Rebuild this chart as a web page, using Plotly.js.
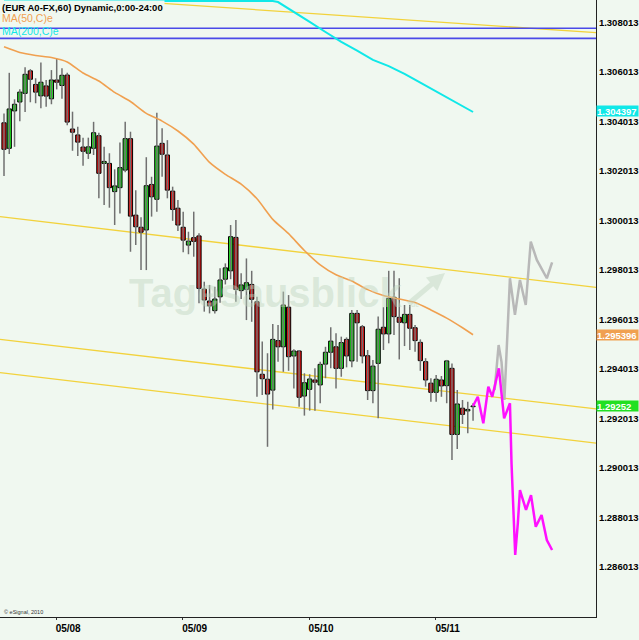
<!DOCTYPE html>
<html>
<head>
<meta charset="utf-8">
<script src="https://cdn.plot.ly/plotly-3.0.1.min.js"></script>
<style>
html,body{margin:0;padding:0;background:#f0f8f0;}
#chart{width:639px;height:640px;}
</style>
</head>
<body>
<div id="chart"></div>
<script>
// ---- hourly candles (EUR A0-FX, 60) ----
const opens = [1.30396,1.30293,1.30444,1.30480,1.30515,1.30606,1.30551,1.30505,1.30545,1.30493,
1.30569,1.30547,1.30589,1.30371,1.30347,1.30298,1.30273,1.30293,1.30344,1.30232,
1.30232,1.30118,1.30134,1.30205,1.30332,1.30023,1.29974,1.29963,1.30147,1.30087,
1.30313,1.30266,1.30120,1.30051,1.29974,1.29902,1.29932,1.29939,1.29724,1.29676,
1.29637,1.29693,1.29764,1.29798,1.29933,1.29718,1.29723,1.29743,1.29673,1.29380,
1.29360,1.29316,1.29516,1.29491,1.29651,1.29454,1.29474,1.29292,1.29319,1.29357,
1.29337,1.29421,1.29469,1.29491,1.29404,1.29521,1.29434,1.29626,1.29572,1.29455,
1.29314,1.29424,1.29570,1.29543,1.29691,1.29610,1.29588,1.29622,1.29568,1.29509,
1.29431,1.29344,1.29307,1.29357,1.29334,1.29404,1.29137,1.29243,1.29232,1.29249];
const highs = [1.30434,1.30598,1.30491,1.30532,1.30620,1.30613,1.30576,1.30640,1.30569,1.30609,
1.30655,1.30616,1.30598,1.30441,1.30380,1.30336,1.30336,1.30400,1.30356,1.30299,
1.30273,1.30208,1.30316,1.30400,1.30360,1.30124,1.30014,1.30257,1.30178,1.30437,
1.30374,1.30326,1.30138,1.30084,1.30037,1.29956,1.30037,1.29950,1.29754,1.29741,
1.29734,1.29808,1.29828,1.29983,1.30003,1.29788,1.29848,1.29798,1.29693,1.29512,
1.29465,1.29583,1.29579,1.29714,1.29700,1.29481,1.29478,1.29384,1.29380,1.29404,
1.29431,1.29491,1.29570,1.29546,1.29532,1.29529,1.29640,1.29640,1.29579,1.29478,
1.29438,1.29613,1.29651,1.29798,1.29798,1.29768,1.29660,1.29660,1.29579,1.29521,
1.29445,1.29364,1.29377,1.29373,1.29438,1.29424,1.29316,1.29276,1.29269,1.29263];
const lows = [1.30181,1.30270,1.30299,1.30402,1.30440,1.30479,1.30475,1.30455,1.30461,1.30471,
1.30531,1.30493,1.30386,1.30283,1.30262,1.30223,1.30250,1.30266,1.30091,1.30064,
1.30053,1.29983,1.30030,1.30196,1.29875,1.29902,1.29801,1.29801,1.30017,1.30037,
1.30178,1.30091,1.30000,1.29959,1.29873,1.29865,1.29855,1.29667,1.29633,1.29626,
1.29626,1.29669,1.29743,1.29764,1.29673,1.29684,1.29599,1.29592,1.29289,1.29296,
1.29087,1.29238,1.29431,1.29390,1.29394,1.29323,1.29249,1.29213,1.29233,1.29233,
1.29263,1.29364,1.29404,1.29323,1.29370,1.29408,1.29408,1.29431,1.29424,1.29276,
1.29263,1.29202,1.29478,1.29505,1.29539,1.29440,1.29494,1.29478,1.29471,1.29394,
1.29330,1.29269,1.29269,1.29289,1.29263,1.29034,1.29078,1.29179,1.29142,1.29192];
const closes = [1.30289,1.30452,1.30471,1.30520,1.30592,1.30572,1.30520,1.30560,1.30504,1.30569,
1.30560,1.30588,1.30399,1.30358,1.30318,1.30281,1.30299,1.30356,1.30192,1.30240,
1.30134,1.30141,1.30215,1.30332,1.30019,1.29976,1.29954,1.30142,1.30097,1.30302,
1.30269,1.30124,1.30046,1.29983,1.29922,1.29918,1.29917,1.29727,1.29680,1.29656,
1.29684,1.29761,1.29810,1.29936,1.29723,1.29741,1.29750,1.29683,1.29390,1.29362,
1.29300,1.29521,1.29491,1.29660,1.29451,1.29474,1.29287,1.29346,1.29361,1.29348,
1.29420,1.29469,1.29514,1.29404,1.29508,1.29454,1.29626,1.29588,1.29454,1.29314,
1.29413,1.29562,1.29543,1.29687,1.29613,1.29590,1.29622,1.29566,1.29516,1.29435,
1.29357,1.29307,1.29360,1.29333,1.29434,1.29137,1.29260,1.29218,1.29238,1.29252];

// ---- moving averages ----
const ma50X = [0,3,6,9,12,15,18,21,24,27,30,33,36,39,42,45,48,51,54,57,60,63,66,69,72,75,78,81,84,87,89];
const ma50Y = [1.30703,1.30680,1.30668,1.30660,1.30642,1.30597,1.30565,1.30519,1.30482,1.30434,
1.30403,1.30363,1.30310,1.30236,1.30188,1.30148,1.30089,1.30006,1.29948,1.29880,
1.29822,1.29782,1.29757,1.29722,1.29698,1.29684,1.29670,1.29640,1.29607,1.29568,1.295396];
const ma200X = [0,51,52,55,58,61,64,67,70,73,76,79,82,85,89];
const ma200Y = [1.30888,1.30888,1.30884,1.30845,1.30804,1.30763,1.30723,1.30688,1.30650,1.30625,
1.30594,1.30558,1.30523,1.30486,1.304397];

// ---- forecast paths ----
const fcMagX = [89,89.9,90.95,91.9,92.65,93.9,94.9,95.6,96.0,96.3,96.6,97.0,97.5,97.9,99.05,100.0,100.9,102.0,103.0,104.0];
const fcMagY = [1.29252,1.29289,1.29182,1.29330,1.29289,1.29404,1.29202,1.29236,1.29263,1.29020,
1.28885,1.28650,1.28778,1.28912,1.28832,1.28892,1.28764,1.28811,1.28710,1.28670];
const fcGrayX = [93.1,93.85,94.4,94.95,96.0,96.95,97.9,99.0,99.95,101.1,103.0,104.0];
const fcGrayY = [1.29316,1.29498,1.29430,1.29276,1.29768,1.29620,1.29761,1.29660,1.29916,1.29842,1.29768,1.29832];

// ---- trend lines (left edge, right edge) and horizontal levels ----
const trendA = [1.30923,1.30760];
const trendB = [1.30017,1.29731];
const trendC = [1.29521,1.29240];
const trendD = [1.29387,1.29102];
const levels = [1.30778,1.30737];

// ---- axes ----
const yTicks = [1.286013,1.288013,1.290013,1.292013,1.294013,1.296013,1.298013,1.300013,1.302013,1.304013,1.306013,1.308013];
const dayTicks = [9.9,33.9,57.9,81.9];
const dayLabels = ['05/08','05/09','05/10','05/11'];
const lastMA200 = 1.304397, lastMA50 = 1.295396, lastClose = 1.29252;

const BG = '#f0f8f0';
const FONT = 'Liberation Sans, Arial, sans-serif';
const idx = opens.map((_, i) => i);

const wx = [], wy = [];
idx.forEach(i => { wx.push(i, i, null); wy.push(lows[i], highs[i], null); });

const bodyBase = idx.map(i => Math.min(opens[i], closes[i]));
const bodyH = idx.map(i => Math.max(Math.abs(closes[i] - opens[i]), 0.00002));
const bodyCol = idx.map(i => closes[i] >= opens[i] ? '#1ee01e' : '#e01010');

const traces = [
  {type:'scatter', mode:'lines', x:wx, y:wy, line:{color:'#707070', width:1.5}, hoverinfo:'skip'},
  {type:'bar', x:idx, base:bodyBase, y:bodyH, width:0.8,
   marker:{color:bodyCol, line:{color:'#000', width:1}}, hoverinfo:'skip'},
  {type:'scatter', mode:'lines', x:ma50X, y:ma50Y, line:{color:'#f0a050', width:1.6, shape:'spline', smoothing:0.6}},
  {type:'scatter', mode:'lines', x:ma200X, y:ma200Y, line:{color:'#10e8e8', width:2}},
  {type:'scatter', mode:'lines', x:fcGrayX, y:fcGrayY, line:{color:'#b8b8b8', width:2.5}},
  {type:'scatter', mode:'lines', x:fcMagX, y:fcMagY, line:{color:'#ff10ff', width:2.5}}
];

const lineShape = (ys, color, w) => ({type:'line', xref:'paper', x0:0, x1:1, yref:'y', y0:ys[0], y1:ys[1],
  line:{color:color, width:w}, layer:'below'});
const shapes = [
  lineShape(trendA, '#f2d23c', 1.3), lineShape(trendB, '#f2d23c', 1.3),
  lineShape(trendC, '#f2d23c', 1.3), lineShape(trendD, '#f2d23c', 1.3),
  lineShape([levels[0], levels[0]], '#4a4ae8', 1.6), lineShape([levels[1], levels[1]], '#4a4ae8', 1.6)
];

const py = px => 1 - px / 617;
const annotations = [
  {xref:'paper', yref:'paper', x:0, y:py(0), xanchor:'left', yanchor:'top', showarrow:false,
   text:'(EUR A0-FX,60) Dynamic,0:00-24:00', bgcolor:BG, borderpad:1,
   font:{family:FONT, size:9.5, weight:'bold', color:'#000'}},
  {xref:'paper', yref:'paper', x:0, y:py(18), xanchor:'left', yanchor:'middle', showarrow:false,
   text:'MA(50,C)e', font:{family:FONT, size:10.5, color:'#f0a050'}},
  {xref:'paper', yref:'paper', x:0, y:py(31), xanchor:'left', yanchor:'middle', showarrow:false,
   text:'MA(200,C)e', font:{family:FONT, size:10.5, color:'#10e8e8'}},
  {xref:'paper', yref:'paper', x:0.003, y:py(612), xanchor:'left', yanchor:'middle', showarrow:false,
   text:'© eSignal, 2010', font:{family:FONT, size:5.5, color:'#333'}},
  {xref:'paper', yref:'paper', x:265/596, y:py(293), xanchor:'center', yanchor:'middle', showarrow:false,
   text:'Tagesausblick', font:{family:FONT, size:40, weight:'bold', color:'rgba(190,212,190,0.45)'}},
  {xref:'paper', yref:'paper', x:407/596, y:py(304), xanchor:'left', yanchor:'middle', showarrow:false,
   text:'.de', font:{family:FONT, size:7, weight:'bold', color:'rgba(190,212,190,0.5)'}},
  {xref:'paper', yref:'paper', x:445/596, y:py(273), ax:-38, ay:32, showarrow:true, arrowhead:2,
   arrowwidth:5, arrowsize:0.7, arrowcolor:'rgba(190,212,190,0.45)', text:''}
];
const tag = (val, txt, bg, shift) => ({xref:'paper', yref:'y', x:1, y:val, xanchor:'left', yanchor:'middle',
  showarrow:false, text:txt, bgcolor:bg, borderpad:0, width:41, height:10, align:'left', yshift:shift,
  font:{family:FONT, size:9.5, weight:'bold', color:'#fff'}});
annotations.push(tag(lastMA200, lastMA200.toFixed(6), '#10e8e8', 1.5));
annotations.push(tag(lastMA50, lastMA50.toFixed(6), '#f0a050', 0));
annotations.push(tag(lastClose, lastClose.toFixed(5), '#22e022', 0));

const layout = {
  width:639, height:640,
  margin:{l:0, r:43, t:0, b:23, pad:0},
  paper_bgcolor:BG, plot_bgcolor:BG,
  showlegend:false, barmode:'overlay',
  xaxis:{range:[-0.759, 112.33], showgrid:false, zeroline:false, showline:true, linecolor:'#222', linewidth:1,
    tickvals:dayTicks, ticktext:dayLabels, ticks:'outside', ticklen:2, tickcolor:'#333', ticklabelshift:12,
    tickfont:{family:FONT, size:10, weight:'bold', color:'#000'}, fixedrange:true},
  yaxis:{side:'right', range:[1.283993, 1.308922], showgrid:false, zeroline:false, showline:true,
    linecolor:'#222', linewidth:1, tickvals:yTicks, ticktext:yTicks.map(v => v.toFixed(6)), ticks:'',
    tickfont:{family:FONT, size:9.5, weight:'bold', color:'#000'}, fixedrange:true},
  shapes:shapes, annotations:annotations
};

Plotly.newPlot('chart', traces, layout, {displayModeBar:false, staticPlot:true});
</script>
</body>
</html>
